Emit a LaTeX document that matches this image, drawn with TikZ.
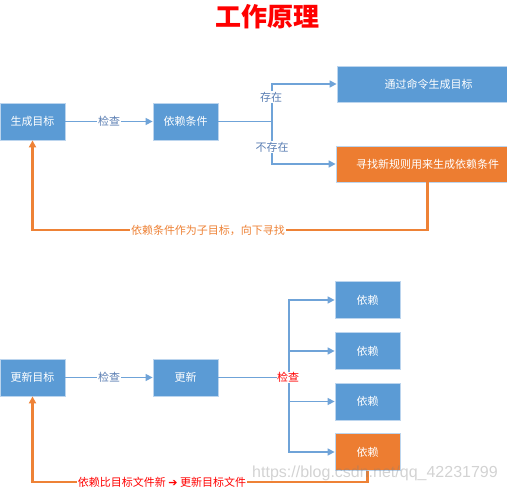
\documentclass[tikz,border=0pt]{standalone}
\usepackage{fontspec}
\setmainfont{Noto Sans CJK SC}
\newfontfamily\djv{DejaVu Sans}
\newfontfamily\wmfont{Liberation Sans}
\usetikzlibrary{arrows.meta}
\definecolor{bbox}{HTML}{5B9BD5}
\definecolor{obox}{HTML}{ED7D31}
\definecolor{bline}{HTML}{6FA3D8}
\definecolor{btext}{HTML}{5A7EB3}
\definecolor{oline}{HTML}{EE8236}
\definecolor{edge}{HTML}{BCD5EE}
\begin{document}
\begin{tikzpicture}[x=1pt,y=-1pt,
  box/.style={rectangle, draw=edge, line width=0.8pt, text=white, font=\fontsize{11}{13}\selectfont, minimum height=37pt, inner sep=0pt},
  bluebox/.style={box, fill=bbox},
  orangebox/.style={box, fill=obox},
  bl/.style={draw=bline, line width=1.5pt},
  barrow/.style={bl, -{Triangle[length=7pt,width=7pt]}},
  ol/.style={draw=oline, line width=2.2pt},
  oarrow/.style={ol, -{Triangle[length=7pt,width=7pt]}},
  lbl/.style={fill=white, inner sep=1pt, font=\fontsize{11}{13}\selectfont}
]
\useasboundingbox (0,0) rectangle (507,494);
\clip (0,0) rectangle (507,494);

% title
\node[text=red, font=\fontsize{26}{30}\selectfont\bfseries] (title) at (267,17) {工作原理};

% ---------- top section ----------
\node[bluebox, minimum width=65pt] (gen) at (32.5,121.5) {生成目标};
\node[bluebox, minimum width=65pt] (dep) at (185.5,121.5) {依赖条件};
\node[bluebox, minimum width=183pt, minimum height=36pt] (cmd) at (428.5,84) {通过命令生成目标};
\node[orangebox, minimum width=183pt, minimum height=36pt] (rule) at (427.5,164) {寻找新规则用来生成依赖条件};

\draw[barrow] (gen) -- node[lbl, text=btext] (chk1) {检查} (dep);
\coordinate (s1) at (272,121.5);
\draw[bl] (dep.east) -- (s1);
\draw[barrow] (s1) |- (cmd.west);
\draw[barrow] (s1) |- (rule.west);
\node[lbl, text=btext] (ex) at (271,97) {存在};
\node[lbl, text=btext] (nex) at (272,147) {不存在};

\coordinate (fb1) at (32.5,230);
\draw[oarrow] (rule.south) |- (fb1) -- (gen.south);
\node[lbl, text=oline] (fbl1) at (208,230) {依赖条件作为子目标，向下寻找};

% ---------- bottom section ----------
\node[bluebox, minimum width=65pt] (ugen) at (32.5,377.5) {更新目标};
\node[bluebox, minimum width=65pt] (upd) at (185.5,377.5) {更新};
\node[bluebox, minimum width=65pt] (d1) at (367.5,300) {依赖};
\node[bluebox, minimum width=65pt] (d2) at (367.5,351) {依赖};
\node[bluebox, minimum width=65pt] (d3) at (367.5,401.5) {依赖};
\node[orangebox, minimum width=65pt] (d4) at (367.5,452) {依赖};

\draw[barrow] (ugen) -- node[lbl, text=btext] (chk2) {检查} (upd);
\coordinate (s2) at (289,377.5);
\draw[bl] (upd.east) -- (s2);
\draw[barrow] (s2) |- (d1.west);
\draw[barrow] (s2) |- (d2.west);
\draw[barrow] (s2) |- (d3.west);
\draw[barrow] (s2) |- (d4.west);
\node[lbl, text=red, inner sep=0.5pt] (chk3) at (288,377.5) {检查};

\coordinate (fb2) at (32.5,482);
\draw[oarrow] (d4.south) |- (fb2) -- (ugen.south);
\node[lbl, text=red] (fbl2) at (162,482) {依赖比目标文件新 {\djv ➔} 更新目标文件};

% watermark
\node[text=gray, opacity=0.35, font=\wmfont\fontsize{16}{18}\selectfont] (wm) at (375,473) {https://blog.csdn.net/qq\_42231799};
\end{tikzpicture}
\end{document}
